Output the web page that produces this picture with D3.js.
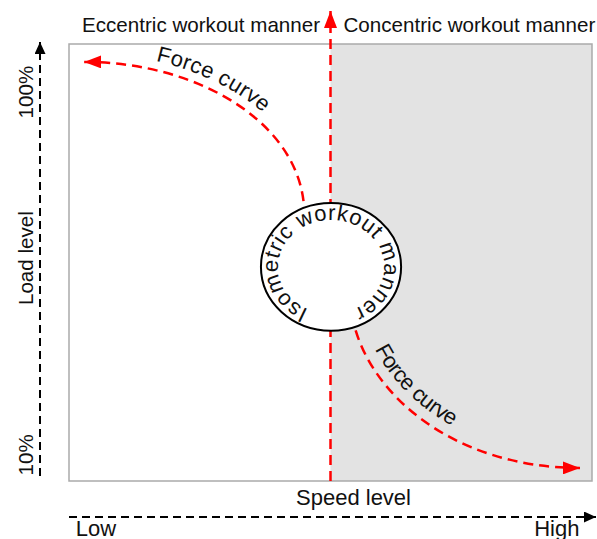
<!DOCTYPE html>
<html>
<head>
<meta charset="utf-8">
<script src="https://cdn.jsdelivr.net/npm/d3@7"></script>
<style>
  body { margin: 0; background: #fff; }
  text { font-family: "Liberation Sans", Arial, sans-serif; fill: #111; }
</style>
</head>
<body>
<div id="chart"></div>
<script>
// chart values (data units: speed 0..100 left to right, load 0..100 bottom to top)
var speedDomain = [0, 100];
var loadDomain = [0, 100];
var zones = [
  { label: "Eccentric workout manner", from: 0, to: 50, fill: "#ffffff" },
  { label: "Concentric workout manner", from: 50, to: 100, fill: "#e3e3e3" }
];
var isometricLabel = "Isometric workout manner";
var isometricCenter = { speed: 50.1, load: 49 };
var isometricRadius = { speed: 13.4, load: 14.6 };
// force curves as bezier control points [speed, load]
var curveLeft = [[2.9, 95.9], [25, 95.9], [45, 81.5], [45, 60.9]];
var curveRight = [[54.1, 38], [56.6, 20.8], [72.8, 3], [97.7, 3]];
var curveLabel = "Force curve";
var loadTicks = ["10%", "Load level", "100%"];
var speedTicks = ["Low", "Speed level", "High"];

var width = 597, height = 539;
var margin = { top: 44, right: 5, bottom: 58, left: 69 };
var titleSize = 20.6, labelSize = 22;

var svg = d3.select("#chart").append("svg")
  .attr("width", width)
  .attr("height", height);

var x = d3.scaleLinear().domain(speedDomain).range([margin.left, width - margin.right]);
var y = d3.scaleLinear().domain(loadDomain).range([height - margin.bottom, margin.top]);

var defs = svg.append("defs");
function arrowMarker(id, color, len, wid) {
  defs.append("marker")
    .attr("id", id)
    .attr("viewBox", "0 0 " + len + " " + wid)
    .attr("refX", len).attr("refY", wid / 2)
    .attr("markerUnits", "userSpaceOnUse")
    .attr("markerWidth", len).attr("markerHeight", wid)
    .attr("orient", "auto-start-reverse")
    .append("path")
    .attr("d", "M0,0L" + len + "," + (wid / 2) + "L0," + wid + "Z")
    .attr("fill", color);
}
arrowMarker("redArrow", "#ff0000", 17, 13);
arrowMarker("blackArrow", "#000", 12, 11);

// zones
svg.append("g").selectAll("rect")
  .data(zones)
  .enter().append("rect")
  .attr("x", function (d) { return x(d.from); })
  .attr("y", y(100))
  .attr("width", function (d) { return x(d.to) - x(d.from); })
  .attr("height", y(0) - y(100))
  .attr("fill", function (d) { return d.fill; });

svg.append("rect")
  .attr("x", x(0)).attr("y", y(100))
  .attr("width", x(100) - x(0)).attr("height", y(0) - y(100))
  .attr("fill", "none")
  .attr("stroke", "#aaa")
  .attr("stroke-width", 1.5);

// zone titles
svg.append("g").selectAll("text")
  .data(zones)
  .enter().append("text")
  .attr("x", function (d) { return x(d.from) + 13; })
  .attr("y", 32)
  .attr("font-size", titleSize)
  .text(function (d) { return d.label; });

// vertical red divider
svg.append("line")
  .attr("x1", x(50)).attr("x2", x(50))
  .attr("y1", y(0)).attr("y2", 11)
  .attr("stroke", "#ff0000")
  .attr("stroke-width", 2.5)
  .attr("stroke-dasharray", "10,6")
  .attr("marker-end", "url(#redArrow)");

// force curves
function bez(p) {
  var path = d3.path();
  path.moveTo(x(p[0][0]), y(p[0][1]));
  path.bezierCurveTo(x(p[1][0]), y(p[1][1]), x(p[2][0]), y(p[2][1]), x(p[3][0]), y(p[3][1]));
  return path.toString();
}

svg.append("path")
  .attr("id", "curveLeft")
  .attr("d", bez(curveLeft))
  .attr("fill", "none")
  .attr("stroke", "#ff0000")
  .attr("stroke-width", 2.5)
  .attr("stroke-dasharray", "10,6")
  .attr("marker-start", "url(#redArrow)");

svg.append("path")
  .attr("id", "curveRight")
  .attr("d", bez(curveRight))
  .attr("fill", "none")
  .attr("stroke", "#ff0000")
  .attr("stroke-width", 2.5)
  .attr("stroke-dasharray", "10,6")
  .attr("marker-end", "url(#redArrow)");

svg.append("text")
  .attr("font-size", labelSize)
  .attr("dy", -9)
  .append("textPath")
  .attr("href", "#curveLeft")
  .attr("startOffset", 70)
  .text(curveLabel);

svg.append("text")
  .attr("font-size", labelSize)
  .attr("dy", -11)
  .append("textPath")
  .attr("href", "#curveRight")
  .attr("startOffset", 42)
  .text(curveLabel);

// isometric circle
var cx = x(isometricCenter.speed), cy = y(isometricCenter.load);
var rx = x(isometricRadius.speed) - x(0), ry = y(0) - y(isometricRadius.load);
svg.append("ellipse")
  .attr("cx", cx).attr("cy", cy)
  .attr("rx", rx).attr("ry", ry)
  .attr("fill", "#fff")
  .attr("stroke", "#000")
  .attr("stroke-width", 2);

var trx = rx - 17, tryy = ry - 17;
defs.append("path")
  .attr("id", "isoPath")
  .attr("d", "M" + cx + "," + (cy + tryy) +
    "A" + trx + "," + tryy + " 0 0 1 " + cx + "," + (cy - tryy) +
    "A" + trx + "," + tryy + " 0 0 1 " + cx + "," + (cy + tryy));

svg.append("text")
  .attr("font-size", labelSize)
  .attr("letter-spacing", 0.6)
  .attr("text-anchor", "middle")
  .append("textPath")
  .attr("href", "#isoPath")
  .attr("startOffset", "50%")
  .text(isometricLabel);

// load axis (left)
var axisX = 40;
svg.append("line")
  .attr("x1", axisX).attr("x2", axisX)
  .attr("y1", y(0) - 5).attr("y2", 42)
  .attr("stroke", "#000")
  .attr("stroke-width", 2)
  .attr("stroke-dasharray", "8,5")
  .attr("marker-end", "url(#blackArrow)");

var loadPos = [y(6), y(51), y(89)];
svg.append("g").selectAll("text")
  .data(loadTicks)
  .enter().append("text")
  .attr("transform", function (d, i) { return "translate(33," + loadPos[i] + ") rotate(-90)"; })
  .attr("text-anchor", "middle")
  .attr("font-size", titleSize)
  .text(function (d) { return d; });

// speed axis (bottom)
var axisY = 517;
svg.append("line")
  .attr("x1", x(0)).attr("x2", 596)
  .attr("y1", axisY).attr("y2", axisY)
  .attr("stroke", "#000")
  .attr("stroke-width", 2)
  .attr("stroke-dasharray", "8,5")
  .attr("marker-end", "url(#blackArrow)");

svg.append("g").selectAll("text")
  .data(speedTicks)
  .enter().append("text")
  .attr("x", function (d, i) { return [x(1.3), x(54.4), x(97.6)][i]; })
  .attr("y", function (d, i) { return i === 1 ? 505 : 536; })
  .attr("text-anchor", function (d, i) { return ["start", "middle", "end"][i]; })
  .attr("font-size", labelSize)
  .text(function (d) { return d; });
</script>
</body>
</html>
